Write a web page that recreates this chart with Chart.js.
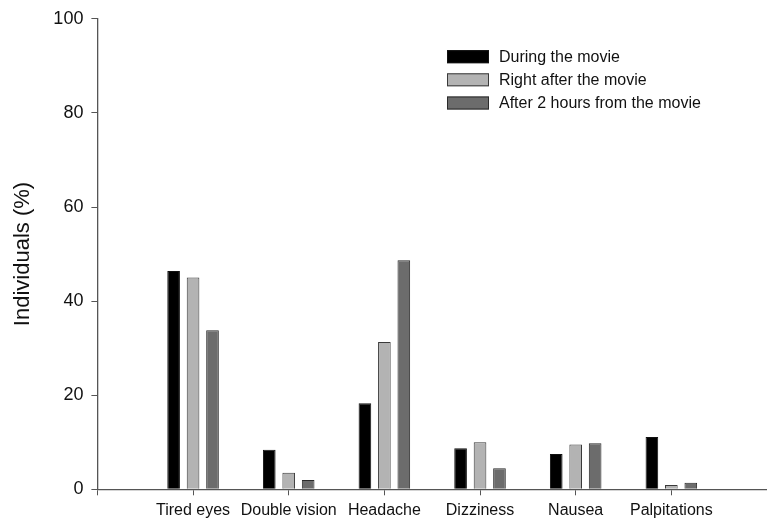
<!DOCTYPE html>
<html>
<head>
<meta charset="utf-8">
<script src="https://cdn.jsdelivr.net/npm/chart.js@4"></script>
<style>
html,body{margin:0;padding:0;background:#fff;}
#wrap{width:767px;height:524px;position:relative;}
</style>
</head>
<body>
<div id="wrap"><canvas id="c" width="767" height="524"></canvas></div>
<script>
// categories (empty slots at both ends reproduce the axis spacing)
const categories = ['', 'Tired eyes', 'Double vision', 'Headache', 'Dizziness', 'Nausea', 'Palpitations', ''];
const duringMovie      = [null, 46.4, 8.4, 18.3, 8.7, 7.5, 11.1, null];
const rightAfterMovie  = [null, 45.0, 3.5, 31.3, 10.0, 9.5, 0.9, null];
const after2Hours      = [null, 33.8, 2.0, 48.7, 4.5, 9.8, 1.4, null];
const seriesLabels = ['During the movie', 'Right after the movie', 'After 2 hours from the movie'];
const yTicks = [0, 20, 40, 60, 80, 100];

const FONT = 'Arial, "Liberation Sans", sans-serif';
const fills = ['#000000', '#b3b3b3', '#6c6c6c'];
const borders = ['#111111', '#3a3a3a', '#2a2a2a'];

const legendPlugin = {
  id: 'customLegend',
  afterDraw(chart) {
    const ctx = chart.ctx;
    ctx.save();
    const x0 = 447, w = 42, h = 13;
    const rows = [56.7, 79.8, 103];
    chart.data.datasets.forEach((ds, i) => {
      const cy = rows[i];
      ctx.fillStyle = ds.backgroundColor;
      ctx.fillRect(x0, cy - h / 2, w, h);
      ctx.strokeStyle = ds.borderColor;
      ctx.lineWidth = 1;
      ctx.strokeRect(x0 + 0.5, cy - h / 2 + 0.5, w - 1, h - 1);
      ctx.fillStyle = '#111';
      ctx.font = '16px ' + FONT;
      ctx.textBaseline = 'middle';
      ctx.textAlign = 'left';
      ctx.fillText(ds.label, 499, cy + 1);
    });
    ctx.restore();
  }
};

const data = {
  labels: categories,
  datasets: [duringMovie, rightAfterMovie, after2Hours].map((vals, i) => ({
    label: seriesLabels[i],
    data: vals,
    backgroundColor: fills[i],
    borderColor: borders[i],
    borderWidth: 1,
    categoryPercentage: 0.61,
    barPercentage: 0.65
  }))
};

new Chart(document.getElementById('c'), {
  type: 'bar',
  data,
  plugins: [legendPlugin],
  options: {
    responsive: false,
    animation: false,
    devicePixelRatio: 1,
    layout: { padding: { top: 18.7, right: 0, left: 0, bottom: 0 } },
    plugins: { legend: { display: false }, tooltip: { enabled: false } },
    scales: {
      x: {
        offset: false,
        grid: { display: true, drawOnChartArea: false, drawTicks: true, tickLength: 6, color: '#555', offset: false, lineWidth: 1 },
        border: { display: true, color: '#555', width: 1.3 },
        ticks: { autoSkip: false, maxRotation: 0, minRotation: 0, padding: 6, color: '#111', font: { family: FONT, size: 16 } },
        afterFit(s) { s.height = 34.7; s.paddingLeft = 0; s.paddingRight = 0; }
      },
      y: {
        min: 0, max: 100,
        afterBuildTicks(s) { s.ticks = yTicks.map(v => ({ value: v })); },
        grid: { display: true, drawOnChartArea: false, drawTicks: true, tickLength: 6, color: '#555', lineWidth: 1 },
        border: { display: true, color: '#555', width: 1.3 },
        ticks: { padding: 8, color: '#111', font: { family: FONT, size: 18 } },
        title: { display: true, text: 'Individuals (%)', color: '#111', font: { family: FONT, size: 22 }, padding: { top: 10, bottom: 0 } },
        afterFit(s) { s.width = 97.4; }
      }
    }
  }
});
</script>
</body>
</html>
